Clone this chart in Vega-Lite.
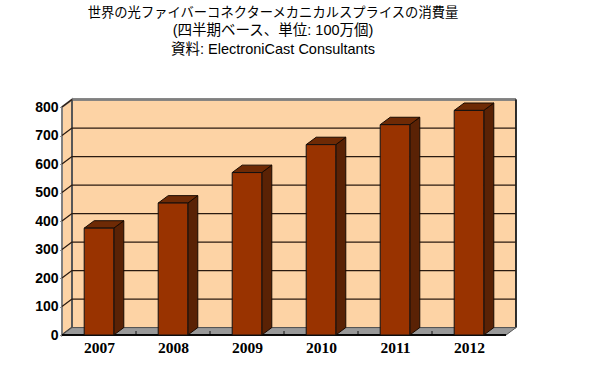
{"$schema":"https://vega.github.io/schema/vega-lite/v6.json","width":444,"height":228,"autosize":"none","padding":{"left":62,"top":107,"right":94,"bottom":40},"background":"white","title":{"text":"世界の光ファイバーコネクターメカニカルスプライスの消費量","subtitle":["(四半期ベース、単位: 100万個)","資料: ElectroniCast Consultants"],"font":"Noto Sans CJK JP","fontSize":13.3,"fontWeight":"normal","color":"#000","subtitleFont":"Liberation Sans, Noto Sans CJK JP","subtitleFontSize":14.5,"subtitleColor":"#000","subtitleFontWeight":"normal","subtitleLineHeight":19,"subtitlePadding":5,"anchor":"middle","offset":39,"dx":-11},"config":{"view":{"stroke":null}},"resolve":{"axis":{"x":"independent","y":"independent"}},"datasets":{"bars":[{"year":2007,"value":375},{"year":2008,"value":463},{"year":2009,"value":570},{"year":2010,"value":668},{"year":2011,"value":738},{"year":2012,"value":788}],"ticks":[{"tick":0},{"tick":100},{"tick":200},{"tick":300},{"tick":400},{"tick":500},{"tick":600},{"tick":700},{"tick":800}],"frame":[{"d":0},{"d":1}],"bounds":[{"b":2007.5},{"b":2008.5},{"b":2009.5},{"b":2010.5},{"b":2011.5}]},"layer":[{"data":{"name":"frame"},"mark":{"type":"rect","fill":"#FDD3A5"},"encoding":{"x":{"datum":2006.635,"type":"quantitative","scale":{"domain":[2006.5,2012.5],"nice":false,"zero":false},"axis":{"values":[2007,2008,2009,2010,2011,2012],"format":"d","title":null,"domain":false,"ticks":false,"grid":false,"labelFont":"Liberation Serif","labelFontWeight":"bold","labelFontSize":15.5,"labelColor":"#000","labelPadding":5}},"x2":{"datum":2012.635},"y":{"datum":26,"type":"quantitative","scale":{"domain":[0,800],"nice":false},"axis":{"values":[0,100,200,300,400,500,600,700,800],"title":null,"domain":false,"ticks":true,"tickSize":2,"tickColor":"#222","labelOverlap":false,"grid":false,"labelFont":"Liberation Sans","labelFontWeight":"bold","labelFontSize":14,"labelColor":"#000","labelPadding":2}},"y2":{"datum":826}}},{"data":{"name":"frame"},"transform":[{"calculate":"2006.5+0.135*datum.d","as":"px"},{"calculate":"26*datum.d","as":"lo"},{"calculate":"800+26*datum.d","as":"hi"}],"mark":{"type":"area","fill":"#FDD3A5","stroke":"#808080","strokeWidth":2},"encoding":{"x":{"field":"px","type":"quantitative","axis":null},"y":{"field":"hi","type":"quantitative","axis":null},"y2":{"field":"lo"}}},{"data":{"name":"frame"},"mark":{"type":"rule","stroke":"#808080","strokeWidth":2.5},"encoding":{"x":{"datum":2006.635,"type":"quantitative","axis":null},"x2":{"datum":2012.635},"y":{"datum":826,"type":"quantitative","axis":null}}},{"data":{"name":"frame"},"mark":{"type":"rule","stroke":"#222","strokeWidth":1.5},"encoding":{"x":{"datum":2012.635,"type":"quantitative","axis":null},"y":{"datum":26,"type":"quantitative","axis":null},"y2":{"datum":826}}},{"data":{"name":"frame"},"mark":{"type":"rule","stroke":"#555","strokeWidth":1.5},"encoding":{"x":{"datum":2006.635,"type":"quantitative","axis":null},"y":{"datum":26,"type":"quantitative","axis":null},"y2":{"datum":826}}},{"data":{"name":"ticks"},"transform":[{"filter":"datum.tick<800"},{"calculate":"datum.tick+26","as":"back"}],"mark":{"type":"rule","stroke":"#2a1a10","strokeWidth":1.3},"encoding":{"x":{"datum":2006.635,"type":"quantitative","axis":null},"x2":{"datum":2012.635},"y":{"field":"back","type":"quantitative","axis":null}}},{"data":{"name":"ticks"},"transform":[{"calculate":"datum.tick+26","as":"back"}],"mark":{"type":"rule","stroke":"#2a1a10","strokeWidth":1.2},"encoding":{"x":{"datum":2006.5,"type":"quantitative","axis":null},"x2":{"datum":2006.635},"y":{"field":"tick","type":"quantitative","axis":null},"y2":{"field":"back"}}},{"data":{"name":"frame"},"transform":[{"calculate":"26*datum.d","as":"py"},{"calculate":"2006.5+0.135*datum.d","as":"l"},{"calculate":"2012.5+0.135*datum.d","as":"r"}],"mark":{"type":"area","orient":"horizontal","fill":"#999999","stroke":"#555","strokeWidth":1},"encoding":{"y":{"field":"py","type":"quantitative","axis":null},"x":{"field":"l","type":"quantitative","axis":null},"x2":{"field":"r"}}},{"data":{"name":"bounds"},"mark":{"type":"rule","stroke":"#111","strokeWidth":1},"encoding":{"x":{"field":"b","type":"quantitative","axis":null},"y":{"datum":0,"type":"quantitative","axis":null},"y2":{"datum":14}}},{"data":{"name":"frame"},"mark":{"type":"rule","stroke":"#000","strokeWidth":1.5},"encoding":{"x":{"datum":2006.5,"type":"quantitative","axis":null},"x2":{"datum":2012.5},"y":{"datum":0,"type":"quantitative","axis":null}}},{"data":{"name":"bars"},"transform":[{"calculate":"0","as":"d0"},{"calculate":"1","as":"d1"},{"fold":["d0","d1"],"as":["dk","d"]},{"calculate":"datum.year+0.2+0.135*datum.d","as":"px"},{"calculate":"datum.value+26*datum.d","as":"hi"},{"calculate":"26*datum.d","as":"lo"}],"mark":{"type":"area","fill":"#5A2205","stroke":"#1a0a00","strokeWidth":1},"encoding":{"x":{"field":"px","type":"quantitative","axis":null},"y":{"field":"hi","type":"quantitative","axis":null},"y2":{"field":"lo"},"detail":{"field":"year"}}},{"data":{"name":"bars"},"transform":[{"calculate":"0","as":"d0"},{"calculate":"1","as":"d1"},{"fold":["d0","d1"],"as":["dk","d"]},{"calculate":"datum.value+26*datum.d","as":"py"},{"calculate":"datum.year-0.2+0.135*datum.d","as":"l"},{"calculate":"datum.year+0.2+0.135*datum.d","as":"r"}],"mark":{"type":"area","orient":"horizontal","fill":"#6E2A05","stroke":"#1a0a00","strokeWidth":1},"encoding":{"y":{"field":"py","type":"quantitative","axis":null},"x":{"field":"l","type":"quantitative","axis":null},"x2":{"field":"r"},"detail":{"field":"year"}}},{"data":{"name":"bars"},"transform":[{"calculate":"datum.year-0.2","as":"l"},{"calculate":"datum.year+0.2","as":"r"}],"mark":{"type":"rect","fill":"#993300","stroke":"#111","strokeWidth":1},"encoding":{"x":{"field":"l","type":"quantitative","axis":null},"x2":{"field":"r"},"y":{"field":"value","type":"quantitative","axis":null},"y2":{"datum":0}}}]}
